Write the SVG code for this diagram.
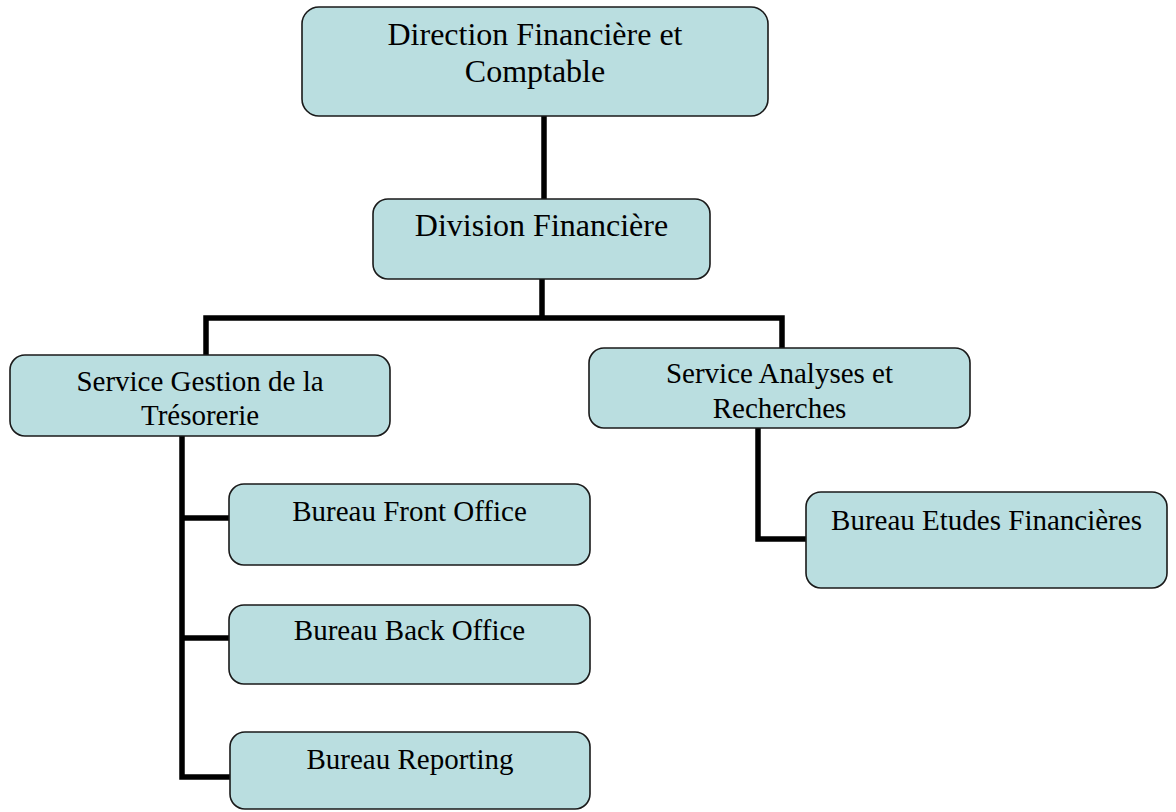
<svg xmlns="http://www.w3.org/2000/svg" width="1176" height="812" viewBox="0 0 1176 812">
<style>
.box{fill:#badee0;stroke:#1a1a1a;stroke-width:1.6}
text{font-family:'Liberation Serif','Times New Roman',Tinos,'DejaVu Serif',serif;fill:#000;text-anchor:middle}
.big{font-size:32px}
.sm{font-size:29px}
.c{fill:none;stroke:#000;stroke-width:5.5;stroke-linejoin:miter;stroke-linecap:butt}
</style>
<rect width="1176" height="812" fill="#fff"/>
<g id="connectors">
<path class="c" d="M544,116 V199"/>
<path class="c" d="M542,279 V318"/>
<path class="c" d="M206,355 V318 H782 V348"/>
<path class="c" d="M182,436 V777 H230"/>
<path class="c" d="M182,518 H229"/>
<path class="c" d="M182,638 H229"/>
<path class="c" d="M758,428 V539 H806"/>
</g>
<g id="direction">
<rect class="box" x="302" y="7" width="466" height="109" rx="17"/>
<text class="big" x="535" y="45" font-family="Liberation Serif, DejaVu Serif, serif">Direction Financière et</text>
<text class="big" x="535" y="82" font-family="Liberation Serif, DejaVu Serif, serif">Comptable</text>
</g>
<g id="division">
<rect class="box" x="373" y="199" width="337" height="80" rx="15"/>
<text class="big" x="541.5" y="236" font-family="Liberation Serif, DejaVu Serif, serif">Division Financière</text>
</g>
<g id="service-gestion">
<rect class="box" x="10" y="355" width="380" height="81" rx="15"/>
<text class="sm" x="200" y="391" font-family="Liberation Serif, DejaVu Serif, serif">Service Gestion de la</text>
<text class="sm" x="200" y="425" font-family="Liberation Serif, DejaVu Serif, serif">Trésorerie</text>
</g>
<g id="service-analyses">
<rect class="box" x="589" y="348" width="381" height="80" rx="15"/>
<text class="sm" x="779.5" y="383" font-family="Liberation Serif, DejaVu Serif, serif">Service Analyses et</text>
<text class="sm" x="779.5" y="418" font-family="Liberation Serif, DejaVu Serif, serif">Recherches</text>
</g>
<g id="front-office">
<rect class="box" x="229" y="484" width="361" height="81" rx="15"/>
<text class="sm" x="409.5" y="521" font-family="Liberation Serif, DejaVu Serif, serif">Bureau Front Office</text>
</g>
<g id="back-office">
<rect class="box" x="229" y="605" width="361" height="79" rx="15"/>
<text class="sm" x="409.5" y="640" font-family="Liberation Serif, DejaVu Serif, serif">Bureau Back Office</text>
</g>
<g id="reporting">
<rect class="box" x="230" y="732" width="360" height="77" rx="15"/>
<text class="sm" x="410" y="769" font-family="Liberation Serif, DejaVu Serif, serif">Bureau Reporting</text>
</g>
<g id="etudes">
<rect class="box" x="806" y="492" width="361" height="96" rx="15"/>
<text class="sm" x="986.5" y="530" font-family="Liberation Serif, DejaVu Serif, serif">Bureau Etudes Financières</text>
</g>
</svg>
